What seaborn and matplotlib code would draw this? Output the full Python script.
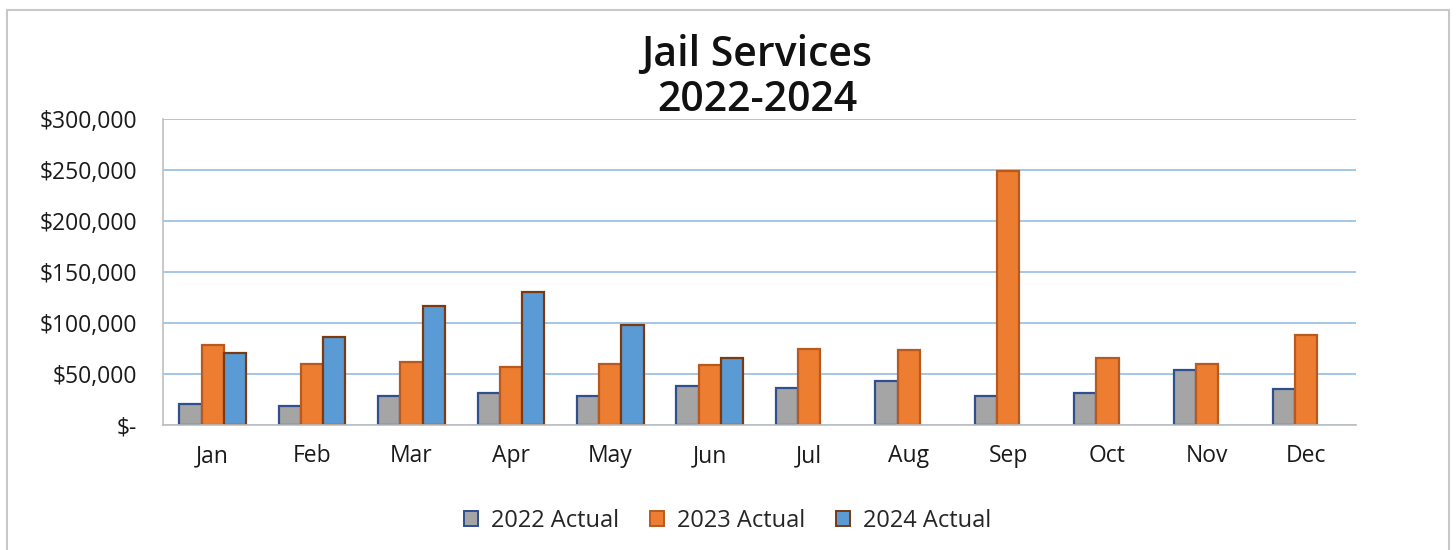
import numpy as np
import pandas as pd
import matplotlib
matplotlib.use("Agg")
import matplotlib.pyplot as plt
from matplotlib.patches import Patch, Rectangle
from matplotlib.ticker import FuncFormatter
import seaborn as sns

months = ["Jan", "Feb", "Mar", "Apr", "May", "Jun", "Jul", "Aug", "Sep", "Oct", "Nov", "Dec"]
series_names = ["2022 Actual", "2023 Actual", "2024 Actual"]
actual_2022 = [21000, 18700, 28300, 31200, 28300, 38000, 36100, 43400, 28900, 31000, 53900, 35100]
actual_2023 = [78600, 60100, 62000, 56900, 60100, 58500, 74300, 73300, 249000, 66100, 59800, 88100]
actual_2024 = [70700, 85800, 117000, 130500, 98300, 65700, np.nan, np.nan, np.nan, np.nan, np.nan, np.nan]
y_ticks = [0, 50000, 100000, 150000, 200000, 250000, 300000]
title_lines = ["Jail Services", "2022-2024"]

fills = ["#A5A5A5", "#ED7D31", "#5B9BD5"]
edges = ["#2F4F8F", "#B85A20", "#7A3A12"]

df = pd.DataFrame({
    "month": months * 3,
    "series": [s for s in series_names for _ in months],
    "value": list(actual_2022) + list(actual_2023) + list(actual_2024),
})

sns.set_theme(style="white")
plt.rcParams["font.family"] = ["Open Sans", "DejaVu Sans"]

fig = plt.figure(figsize=(14.56, 5.5), dpi=100)
ax = fig.add_axes([163 / 1456, 1 - 425 / 550, (1356 - 163) / 1456, (425 - 119) / 550])

sns.barplot(data=df, x="month", y="value", hue="series", order=months,
            hue_order=series_names, palette=fills, width=0.67, ax=ax,
            legend=False, errorbar=None, saturation=1)

for cont, ec in zip(ax.containers, edges):
    for bar in cont:
        bar.set_edgecolor(ec)
        bar.set_linewidth(1.6)

ax.set_ylim(0, 300000)
ax.set_xlim(-0.5, 11.5)
ax.set_yticks(y_ticks)
ax.yaxis.set_major_formatter(FuncFormatter(lambda v, p: "$-" if v == 0 else f"${v:,.0f}"))
ax.grid(axis="y", color="#9DC3E6", linewidth=1.3)
ax.set_axisbelow(True)
ax.set_xlabel("")
ax.set_ylabel("")

for s in ["top", "right"]:
    ax.spines[s].set_visible(False)
for s in ["left", "bottom"]:
    ax.spines[s].set_color("#BFBFBF")
    ax.spines[s].set_linewidth(1.2)

ax.tick_params(axis="y", which="major", length=5, color="#BFBFBF", labelsize=16.5, pad=13.5, labelcolor="#1A1A1A")
ax.tick_params(axis="x", which="major", length=0, labelsize=16.5, pad=14, labelcolor="#1A1A1A")
ax.set_xticks(np.arange(-0.5, 12, 1), minor=True)
ax.tick_params(axis="x", which="minor", length=7, color="#BFBFBF", width=1.2)

for line, yc in zip(title_lines, [55, 100]):
    fig.text(757 / 1456, 1 - yc / 550, line, ha="center", va="center",
             fontsize=29.5, fontweight="semibold", color="#111111")

handles = [Patch(facecolor=f, edgecolor=e, linewidth=1.4, label=n) for f, e, n in zip(fills, edges, series_names)]
fig.legend(handles=handles, loc="center", bbox_to_anchor=(728 / 1456, 1 - 521 / 550), ncol=3,
           frameon=False, fontsize=17, handlelength=0.6, handleheight=0.6, handletextpad=0.55,
           columnspacing=1.3)

fig.patches.append(Rectangle((7 / 1456, -0.1), (1449 - 7) / 1456, (550 - 10) / 550 + 0.1,
                             transform=fig.transFigure, fill=False, edgecolor="#C8C8C8", linewidth=1.5))

fig.savefig("out.png", dpi=100)
